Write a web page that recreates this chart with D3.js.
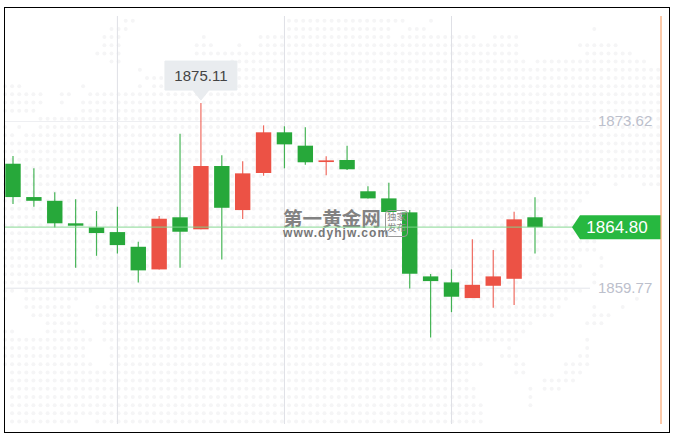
<!DOCTYPE html>
<html><head><meta charset="utf-8">
<script src="https://cdnjs.cloudflare.com/ajax/libs/d3/7.8.5/d3.min.js"></script>
<style>html,body{margin:0;padding:0;background:#fff}svg{display:block}text{font-family:"Liberation Sans",Arial,sans-serif}</style>
</head><body><svg id="c" width="678" height="439"></svg>
<script>
const highs  = [1870.71,1869.69,1867.69,1867.11,1866.14,1866.50,1863.59,1865.72,1872.56,1875.11,1870.77,1870.27,1873.26,1873.18,1873.10,1870.69,1871.57,1868.19,1868.49,1866.22,1860.90,1861.29,1863.79,1862.90,1866.08,1867.28];
const tops   = [1870.07,1867.30,1866.99,1865.12,1864.78,1864.39,1863.17,1865.50,1865.62,1869.88,1869.88,1869.27,1872.68,1872.68,1871.57,1870.35,1870.38,1867.78,1867.19,1866.03,1860.71,1860.21,1860.01,1860.71,1865.45,1865.62];
const bottoms= [1867.30,1866.99,1865.12,1864.92,1864.31,1863.31,1861.21,1861.29,1864.42,1864.62,1866.41,1866.22,1869.30,1871.68,1870.19,1870.21,1869.61,1867.19,1866.06,1860.93,1860.32,1859.02,1858.91,1859.93,1860.51,1864.80];
const lows   = [1866.72,1866.50,1864.78,1861.43,1862.42,1862.62,1860.21,1861.29,1861.43,1864.62,1862.12,1865.47,1869.07,1869.69,1869.99,1869.11,1869.55,1867.19,1866.06,1859.71,1855.64,1857.74,1858.91,1858.10,1858.33,1862.62];
const isUp   = [0,0,0,0,0,0,0,1,0,1,0,1,1,0,0,1,0,0,0,0,0,0,1,1,1,0];
const priceTicks = [1873.62,1859.77];
const lastPrice = 1864.80;
const highPrice = 1875.11;
const gridCandles = [5,13,21];
const logoTitle = "第一黄金网";
const logoUrl = "www.dyhjw.com";
const sealLines = ["独家","发布"];
// dotted world-map background: spans of dot columns per dot row
const mapRows = [
[[17,18],[40,56],[60,60]],[[15,17],[40,54],[57,59],[83,83]],[[14,16],[28,28],[36,54],[56,66],[69,72]],
[[14,16],[27,29],[33,33],[36,72],[81,86]],[[13,16],[27,72],[82,88]],[[15,16],[32,73],[75,90]],
[[19,19],[32,92]],[[20,23],[33,92]],[[0,2],[11,11],[19,19],[21,92]],[[0,5],[8,9],[12,92]],
[[0,5],[8,8],[11,92]],[[0,4],[11,92]],[[5,92]],[[0,0],[2,2],[5,92]],[[0,1],[3,92]],
[[0,92]],[[0,92]],[[0,92]],[[0,92]],[[0,92]],[[0,83],[86,86],[90,92]],[[0,82]],[[0,81]],[[0,80]],
[[0,80]],[[0,80]],[[0,83]],[[0,83]],[[0,83]],[[0,80],[84,84]],[[0,81],[84,84]],[[0,80],[83,83]],[[0,80],[83,83]],
[[0,1],[3,12],[15,81]],[[0,0],[3,10],[15,79],[89,89]],[[3,9],[13,78],[83,83],[87,87]],[[4,10],[13,77],[83,85]],
[[6,10],[14,74],[82,84]],[[0,1],[6,11],[14,73]],[[0,12],[14,72],[82,82]],[[0,11],[15,65],[71,71],[82,82]],
[[0,11],[15,65],[70,72],[81,82]],[[0,12],[15,67],[72,73],[79,82]],[[1,65],[72,73],[79,81]],[[1,65],[76,80]],
[[1,66],[74,74],[76,78]],[[1,66],[74,74]],[[1,67],[74,74]],[[1,67]],[[1,10],[13,67]]
];

const svg = d3.select("#c");
const colX = d3.scaleLinear().domain([0,92]).range([5,658.2]);
const rowY = d3.scaleLinear().domain([0,49]).range([20.7,421.5]);
const x = d3.scaleLinear().domain([0,25]).range([13,535]);
const y = d3.scaleLinear().domain([1859.77,1873.62]).range([287.7,121]);
const GREEN="#27a83a", RED="#ec5245";
const data = highs.map((h,i)=>({i,h,t:tops[i],b:bottoms[i],l:lows[i],up:isUp[i]}));

// map dots
const dots=[];
mapRows.forEach((spans,r)=>spans.forEach(([a,b])=>{for(const c of d3.range(a,b+1))dots.push({r,c});}));
svg.append("g").selectAll("circle").data(dots).join("circle")
  .attr("cx",d=>colX(d.c)).attr("cy",d=>rowY(d.r)).attr("r",2).attr("fill","#f5f5f6");

// vertical grid
svg.append("g").selectAll("line").data(gridCandles).join("line")
  .attr("x1",d=>x(d)).attr("x2",d=>x(d)).attr("y1",16).attr("y2",424)
  .attr("stroke","#dfe0e6").attr("stroke-width",1);

// horizontal grid + price labels through a d3 axis
const axis = d3.axisRight(y).tickValues(priceTicks).tickSize(585).tickPadding(8).tickFormat(d3.format(".2f"));
const ga = svg.append("g").attr("transform","translate(5,0)").call(axis);
ga.select(".domain").remove();
ga.selectAll(".tick line").attr("stroke",(d,i)=>i===0?"#eeeff2":"#e3e4ea").attr("stroke-width",1);
ga.selectAll(".tick text").attr("fill","#bcc0cc").attr("font-size",15).attr("font-family",'"Liberation Sans",Arial,sans-serif');

// watermark title + url
const wmt = svg.append("text").attr("fill","#828282").attr("style",'font-family:"Noto Sans CJK SC"');
wmt.append("tspan").attr("x",283).attr("y",226).attr("font-size",19.6).attr("font-weight",700).text(logoTitle);
wmt.append("tspan").attr("x",283).attr("y",237).attr("font-size",12).attr("font-weight",700).attr("letter-spacing",1.05)
  .attr("style",'font-family:"Liberation Sans"').attr("fill","#777").text(logoUrl);

// right border line (drawn later so it tints the tag)
// candles
const g = svg.append("g");
g.selectAll("line").data(data).join("line")
  .attr("x1",d=>x(d.i)).attr("x2",d=>x(d.i)).attr("y1",d=>y(d.h)).attr("y2",d=>y(d.l))
  .attr("stroke",d=>d.up?RED:GREEN).attr("stroke-width",1.2).attr("stroke-opacity",.85);
g.selectAll("rect").data(data).join("rect")
  .attr("x",d=>x(d.i)-7.7).attr("width",15.4)
  .attr("y",d=>y(d.t)).attr("height",d=>y(d.b)-y(d.t))
  .attr("fill",d=>d.up?RED:GREEN);

// seal sits over the candles
svg.append("rect").attr("x",385.5).attr("y",210.5).attr("width",22).attr("height",26).attr("rx",3.5)
  .attr("fill","none").attr("stroke","#9a9a9a").attr("stroke-width",1);
const seal = svg.append("text").attr("fill","#8a8a8a").attr("text-anchor","middle").attr("font-size",9.5)
  .attr("style",'font-family:"Noto Sans CJK SC"');
sealLines.forEach((s,i)=>seal.append("tspan").attr("x",396.5).attr("y",220+i*11).text(s));

// last price line + tag
const ly=y(lastPrice);
svg.append("line").attr("x1",5).attr("x2",573).attr("y1",ly).attr("y2",ly)
  .attr("stroke","#7fd58b").attr("stroke-opacity",.75).attr("stroke-width",1.2);
svg.append("path").attr("d",d3.line()([[572,ly],[580,ly-12],[661,ly-12],[661,ly+12],[580,ly+12]])+"Z").attr("fill","#27b840");
svg.append("text").attr("x",617).attr("y",ly+6).attr("text-anchor","middle").attr("fill","#fff")
  .attr("font-size",17).text(d3.format(".2f")(lastPrice));
svg.append("line").attr("x1",661).attr("x2",661).attr("y1",16).attr("y2",424)
  .attr("stroke","#f9a56f").attr("stroke-opacity",.6).attr("stroke-width",2);

// high tooltip
const hx=x(9), hy=y(highPrice);
svg.append("path").attr("d",d3.line()([[hx-36,hy-42],[hx+36,hy-42],[hx+36,hy-13],[hx+8,hy-13],[hx,hy-3],[hx-8,hy-13],[hx-36,hy-13]])+"Z")
  .attr("fill","#e9ecef").attr("stroke","#e9ecef").attr("stroke-width",1).attr("stroke-linejoin","round");
svg.append("text").attr("x",hx).attr("y",hy-22).attr("text-anchor","middle").attr("fill","#444")
  .attr("font-size",15).text(d3.format(".2f")(highPrice));

// frame
svg.append("rect").attr("x",4.5).attr("y",7.5).attr("width",665).attr("height",425)
  .attr("fill","none").attr("stroke","#000").attr("stroke-width",1);
</script></body></html>
